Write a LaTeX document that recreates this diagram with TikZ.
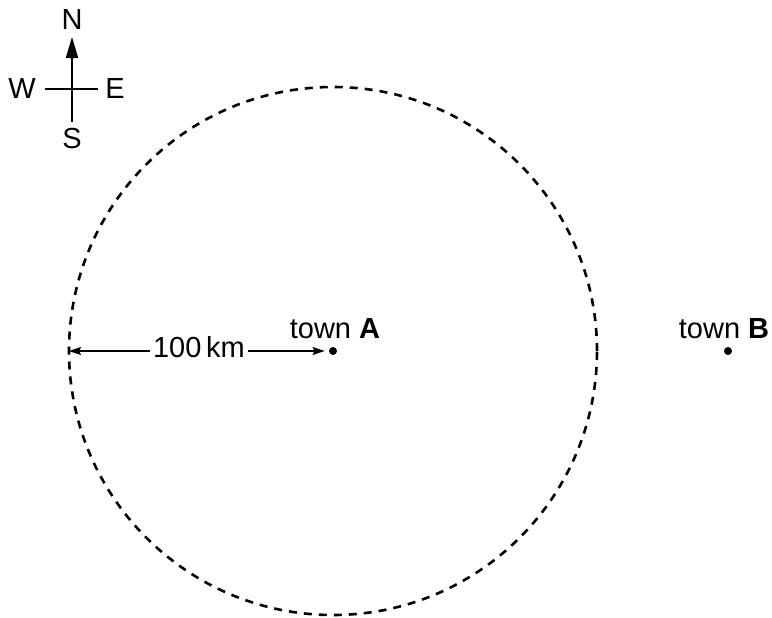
\documentclass[tikz,border=0pt]{standalone}
\usepackage{fontspec}
\setmainfont{Liberation Sans}
\usetikzlibrary{arrows.meta,positioning}
\tikzset{
  town/.style={circle,fill=black,inner sep=0pt,minimum size=4pt},
  lbl/.style={font=\fontsize{14.5}{17}\selectfont,inner sep=1.5pt},
  dim/.style={line width=0.7pt,-{Stealth[length=6pt,width=4pt,inset=1pt]}},
  compass/.style={line width=1.1pt},
}
\begin{document}
\begin{tikzpicture}[x=0.5pt,y=-0.5pt]
    \useasboundingbox (0,0) rectangle (772,617);
    % range circle round town A
    \coordinate (A) at (333,351);
    \draw[line width=1.3pt,dash pattern=on 4pt off 3.5pt] (A) circle[radius=132pt];
    \coordinate (rim) at (69,351);

    % towns
    \node[town] (dotA) at (A) {};
    \node[lbl,anchor=base] (labA) at (335,338) {town \textbf{A}};
    \node[town] (dotB) at (728,351) {};
    \node[lbl,anchor=base] (labB) at (724,338) {town \textbf{B}};

    % radius
    \node[lbl,anchor=base] (rad) at (199,357) {100\,km};
    \draw[dim] (rad.west |- A) -- (rim);
    \draw[dim,shorten >=2pt] (rad.east |- A) -- (dotA.west);

    % compass
    \coordinate (C) at (72,89);
    \coordinate (cN) at (72,37);
    \coordinate (cS) at (72,122);
    \coordinate (cW) at (45,89);
    \coordinate (cE) at (98,89);
    \draw[compass,-{Triangle[length=10.5pt,width=6pt]}] (cS) -- (cN);
    \draw[compass] (cW) -- (cE);
    \node[lbl,anchor=base] (N) at (72,29) {N};
    \node[lbl,anchor=base] (S) at (72,148) {S};
    \node[lbl,anchor=base] (W) at (22,98) {W};
    \node[lbl,anchor=base] (E) at (115,98) {E};
\end{tikzpicture}
\end{document}
